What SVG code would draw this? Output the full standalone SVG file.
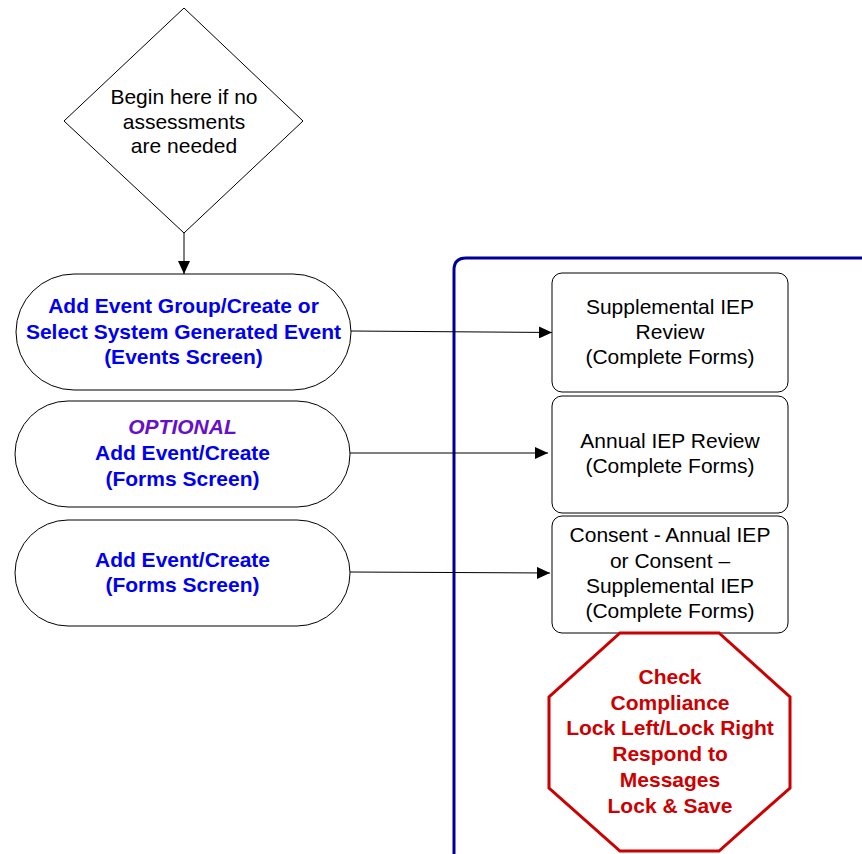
<svg xmlns="http://www.w3.org/2000/svg" width="862" height="854" viewBox="0 0 862 854">
<defs>
<marker id="ah" markerWidth="13" markerHeight="12" refX="13" refY="6" orient="auto" markerUnits="userSpaceOnUse">
<path d="M0,0 L13,6 L0,12 Z" fill="#000"/>
</marker>
<style>
.shape{fill:#fff;stroke:#000;stroke-width:1}
.t{font-family:"Liberation Sans",Arial,sans-serif;font-size:21px;text-anchor:middle;fill:#000}
.b{font-weight:bold;fill:#0000F0}
.p{font-weight:bold;font-style:italic;fill:#6610CC}
.r{font-weight:bold;fill:#CC0000}
.conn{stroke:#000;stroke-width:1;fill:none;marker-end:url(#ah)}
</style>
</defs>
<rect width="862" height="854" fill="#fff"/>
<path id="container" d="M454,860 L454,270 Q454,258 466,258 L870,258" fill="none" stroke="#000099" stroke-width="3"/>
<g id="start">
<polygon class="shape" points="184,8 303,121 184,233 64,121"/>
<text class="t"><tspan x="184" y="104">Begin here if no</tspan><tspan x="184" y="128.5">assessments</tspan><tspan x="184" y="153">are needed</tspan></text>
</g>
<g id="n1">
<rect class="shape" x="16" y="274" width="335" height="116" rx="58"/>
<text class="t b"><tspan x="183.5" y="313">Add Event Group/Create or</tspan><tspan x="183.5" y="338.5">Select System Generated Event</tspan><tspan x="183.5" y="364">(Events Screen)</tspan></text>
</g>
<g id="n2">
<rect class="shape" x="15" y="401" width="335" height="106" rx="53"/>
<text class="t"><tspan class="p" x="182.5" y="434">OPTIONAL</tspan><tspan class="b" x="182.5" y="460">Add Event/Create</tspan><tspan class="b" x="182.5" y="485.5">(Forms Screen)</tspan></text>
</g>
<g id="n3">
<rect class="shape" x="15" y="520" width="335" height="106" rx="53"/>
<text class="t b"><tspan x="182.5" y="567">Add Event/Create</tspan><tspan x="182.5" y="592">(Forms Screen)</tspan></text>
</g>
<g id="b1">
<rect class="shape" x="552" y="273" width="236" height="119" rx="10"/>
<text class="t"><tspan x="670" y="314">Supplemental IEP</tspan><tspan x="670" y="339">Review</tspan><tspan x="670" y="364">(Complete Forms)</tspan></text>
</g>
<g id="b2">
<rect class="shape" x="552" y="396" width="236" height="117" rx="10"/>
<text class="t"><tspan x="670" y="448">Annual IEP Review</tspan><tspan x="670" y="473">(Complete Forms)</tspan></text>
</g>
<g id="b3">
<rect class="shape" x="552" y="516" width="236" height="117" rx="10"/>
<text class="t"><tspan x="670" y="542">Consent - Annual IEP</tspan><tspan x="670" y="568">or Consent –</tspan><tspan x="670" y="593">Supplemental IEP</tspan><tspan x="670" y="618">(Complete Forms)</tspan></text>
</g>
<g id="stop">
<polygon points="620,633 719,633 790,697 790,788 719,851 620,851 549,788 549,697" fill="#fff" stroke="#CC0000" stroke-width="3"/>
<text class="t r"><tspan x="670" y="684">Check</tspan><tspan x="670" y="710">Compliance</tspan><tspan x="670" y="735">Lock Left/Lock Right</tspan><tspan x="670" y="761">Respond to</tspan><tspan x="670" y="787">Messages</tspan><tspan x="670" y="813">Lock &amp; Save</tspan></text>
</g>
<g id="connectors">
<path class="conn" d="M184,233 L184,274"/>
<path class="conn" d="M351,331 L552,332.5"/>
<path class="conn" d="M350,453 L548,453"/>
<path class="conn" d="M350,572 L550,573"/>
</g>
</svg>
